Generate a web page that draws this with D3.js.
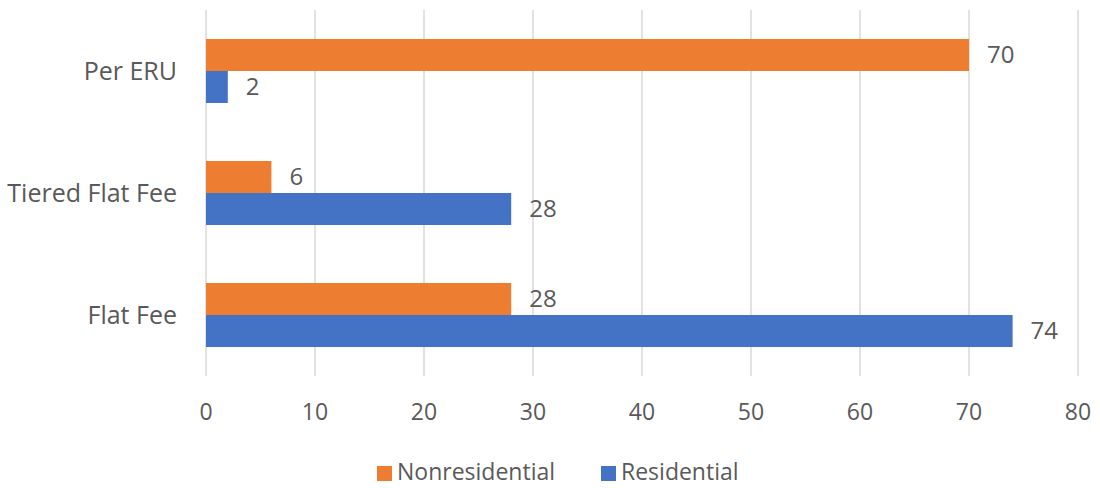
<!DOCTYPE html>
<html>
<head>
<meta charset="utf-8">
<script src="https://cdn.jsdelivr.net/npm/d3@7/dist/d3.min.js"></script>
<style>
  html, body { margin: 0; padding: 0; background: #fff; }
  svg { display: block; font-family: "Open Sans", "Noto Sans", sans-serif; }
</style>
</head>
<body>
<svg id="chart" width="1100" height="488"></svg>
<script>
// Fee structure counts by customer class
const categories = ["Per ERU", "Tiered Flat Fee", "Flat Fee"];
const seriesNames = ["Nonresidential", "Residential"];
const nonresidential = [70, 6, 28];
const residential = [2, 28, 74];
const xTicks = [0, 10, 20, 30, 40, 50, 60, 70, 80];
const colors = { "Nonresidential": "#ED7D31", "Residential": "#4472C4" };

const svg = d3.select("#chart");
const textColor = "#595959";

const x = d3.scaleLinear().domain([0, 80]).range([206, 1078]);
const y = d3.scaleBand().domain(categories).range([10, 376]).paddingInner(0.475).paddingOuter(0.2375);
const sub = d3.scaleBand().domain(seriesNames).range([0, y.bandwidth()]);

const rows = categories.map((c, i) => ({
  category: c,
  values: [
    { series: "Nonresidential", value: nonresidential[i] },
    { series: "Residential", value: residential[i] }
  ]
}));

// vertical gridlines
svg.append("g")
  .selectAll("line")
  .data(xTicks)
  .join("line")
  .attr("x1", d => x(d)).attr("x2", d => x(d))
  .attr("y1", 10).attr("y2", 376)
  .attr("stroke", "#d9d9d9")
  .attr("stroke-width", 1.5);

// x tick labels
svg.append("g")
  .selectAll("text")
  .data(xTicks)
  .join("text")
  .attr("x", d => x(d))
  .attr("y", 412)
  .attr("dy", "0.35em")
  .attr("text-anchor", "middle")
  .attr("font-size", 23)
  .attr("fill", textColor)
  .text(d => d);

// category labels
svg.append("g")
  .selectAll("text")
  .data(categories)
  .join("text")
  .attr("x", 177)
  .attr("y", d => y(d) + y.bandwidth() / 2)
  .attr("dy", "0.35em")
  .attr("text-anchor", "end")
  .attr("font-size", 25)
  .attr("fill", textColor)
  .text(d => d);

// bars and value labels
const groups = svg.append("g")
  .selectAll("g")
  .data(rows)
  .join("g")
  .attr("transform", d => `translate(0,${y(d.category)})`);

groups.selectAll("rect")
  .data(d => d.values)
  .join("rect")
  .attr("x", x(0))
  .attr("y", d => sub(d.series))
  .attr("width", d => x(d.value) - x(0))
  .attr("height", sub.bandwidth())
  .attr("fill", d => colors[d.series]);

groups.selectAll("text")
  .data(d => d.values)
  .join("text")
  .attr("x", d => x(d.value) + 18)
  .attr("y", d => sub(d.series) + sub.bandwidth() / 2)
  .attr("dy", "0.35em")
  .attr("font-size", 24)
  .attr("fill", textColor)
  .text(d => d.value);

// legend
const legendItems = [
  { name: "Nonresidential", x: 377 },
  { name: "Residential", x: 601 }
];
const legend = svg.append("g")
  .selectAll("g")
  .data(legendItems)
  .join("g")
  .attr("transform", d => `translate(${d.x},466)`);
legend.append("rect")
  .attr("width", 15).attr("height", 15)
  .attr("fill", d => colors[d.name]);
legend.append("text")
  .attr("x", 20)
  .attr("y", 14)
  .attr("font-size", 23)
  .attr("fill", textColor)
  .text(d => d.name);
</script>
</body>
</html>
